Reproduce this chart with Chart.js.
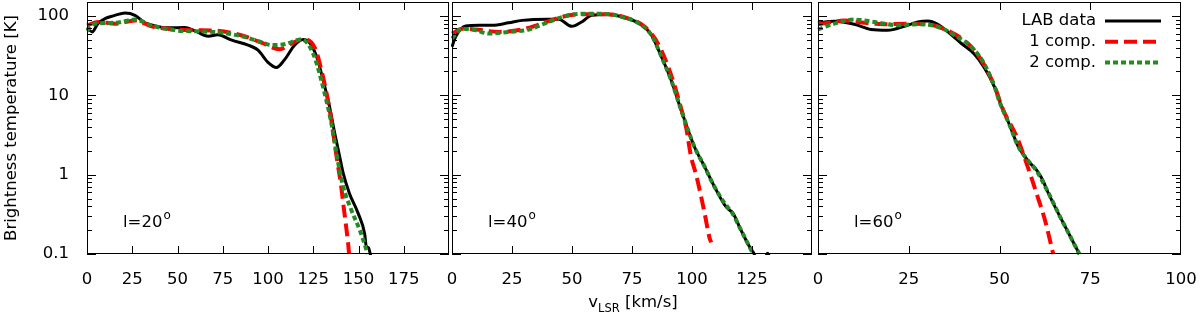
<!DOCTYPE html>
<html>
<head>
<meta charset="utf-8">
<script src="https://cdn.jsdelivr.net/npm/chart.js@4.4.1/dist/chart.umd.min.js"></script>
<style>
html, body { margin: 0; padding: 0; background: #fff; }
body { width: 1200px; height: 319px; position: relative; overflow: hidden; }
canvas { position: absolute; top: 0; }
</style>
</head>
<body>
<canvas id="p20" width="452" height="319" style="left:0px"></canvas>
<canvas id="p40" width="372" height="319" style="left:445px"></canvas>
<canvas id="p60" width="388" height="319" style="left:812px"></canvas>
<script>
// dados: [v_LSR (km/s), T_B (K)]
const seriesNames = ['LAB data', '1 comp.', '2 comp.'];
const longitudes = [20, 40, 60];
const xMaxima = [200, 150, 100];
const yTicks = [0.1, 1, 10, 100];

const lab20 = [[0,72],[2.8,63],[6,80],[10.5,94],[15,101],[21,109],[26.5,102],[32,82],[37.5,75],[44.7,71],[54,71.5],[59.6,65],[67,55.5],[72.3,58],[80,49.5],[89,43],[94.5,37],[100,26],[104.7,22.4],[109,27.8],[114.8,43],[119.5,50.5],[123,46],[126.8,31],[130.4,15.6],[134,7.2],[136.9,3.3],[139.6,1.69],[141.5,1.05],[145,0.58],[149.7,0.33],[153.4,0.18],[154.3,0.125],[155.5,0.12],[156.5,0.1],[157,0.09]];
const one20 = [[0,76],[6.2,84],[15.5,80],[26.5,88],[35.7,74],[48.6,67.5],[60,66],[72,65],[87,55.5],[96.4,46],[106.5,38],[113,45],[119.4,51],[125.8,40],[129.5,20.8],[134.1,6.5],[138.3,1.46],[140.2,0.78],[142,0.36],[144.2,0.14],[144.8,0.1]];
const two20 = [[0,65],[4.4,80],[15.5,82],[26.5,90],[35.7,76],[48.6,66],[60,64],[72,62.4],[87,54.5],[96,47],[102,43],[109,44],[118.5,50.5],[124.9,33.7],[131.3,10.6],[135,4.45],[137.8,1.87],[141.5,0.71],[146,0.36],[150.7,0.2],[154.3,0.114],[155,0.1]];

const lab40 = [[0,40.8],[1.5,54.5],[5.7,75],[11.2,76.5],[16.7,76.5],[23.6,82],[29.2,88],[40.2,91],[44.4,91],[49.9,74],[54,84],[58.2,102],[65,104],[72,95],[77.5,82],[83,58],[87.2,31],[91.3,15.6],[95.5,6.5],[101,2.25],[105.2,1.27],[109.3,0.71],[113.5,0.42],[115.5,0.36],[117,0.33],[120.4,0.2],[123.8,0.126],[125.9,0.1],[127,0.08],[130.5,0.09],[131.5,0.102],[132.5,0.09]];
const one40 = [[0,60],[4.3,69],[9.9,67.5],[19.5,63],[29.2,67.5],[37.4,80],[45.7,97],[54,105],[65,105],[73.4,93],[80.3,73],[85.8,45],[91.3,18],[95.5,6.8],[97.6,3.85],[99.6,1.69],[101.7,1.0],[103.8,0.53],[105.4,0.31],[107.3,0.16],[108,0.14]];
const two40 = [[0,52],[4.3,69],[9.9,66],[15.3,60],[23.6,63],[32,67.5],[40.2,84],[48.5,102],[56.7,107],[66.3,105],[72,95],[77.5,82],[83,58],[87.2,31],[91.3,15.6],[95.5,6.5],[101,2.25],[105.2,1.27],[109.3,0.71],[113.5,0.44],[117,0.32],[120.4,0.2],[123.8,0.126],[125.5,0.1]];

const lab60 = [[0,82],[4.5,86],[10,78.7],[14.6,67.5],[19.2,66],[23.8,74],[27.5,84],[30.2,86.5],[33,78.7],[35.8,63],[39.5,45],[43.1,33],[45.9,22],[48.7,12.5],[50,8.5],[52.8,4.2],[55.1,2.3],[58.4,1.4],[60.2,1.15],[62.1,0.82],[63,0.65],[66.6,0.30],[69.4,0.17],[72,0.1]];
const one60 = [[0,78.7],[3.5,83],[7.2,88],[12.8,82],[18.3,78.7],[24.7,80],[30.2,78.7],[35.8,65],[41.3,45],[45,27.8],[48.7,12.8],[51,6.55],[54.7,3.04],[57.4,1.41],[60.2,0.58],[62.5,0.27],[64.8,0.1]];
const two60 = [[0,67.5],[4.5,80],[10,90],[15.5,84],[22,76.5],[27.5,78.7],[33,73],[37.6,57.2],[42.2,40.8],[45.5,26.3],[48.7,12.6],[50,8.3],[52.8,4.2],[55.1,2.3],[57.9,1.5],[60.2,1.12],[63,0.65],[66.6,0.30],[69.4,0.17],[72,0.1]];

const FONT = "'DejaVu Sans', sans-serif";
const FS = 16.5;
const colors = ['#000000', '#ff0000', '#228b22'];
const widths = [3, 4, 4];
const dashes = [[], [13, 6], [5, 3]];

// moldura, marcas internas, rótulo do painel, legenda e título do eixo x
const framePlugin = {
    id: 'frame',
    afterDatasetsDraw(chart, args, opts) {
        const { ctx, chartArea: a, scales: { x, y } } = chart;
        ctx.save();
        ctx.strokeStyle = '#000';
        ctx.lineWidth = 1;
        ctx.setLineDash([]);
        ctx.strokeRect(a.left + 0.5, a.top + 0.5, a.right - a.left - 1, a.bottom - a.top - 1);

        ctx.beginPath();
        x.ticks.forEach(t => {
            if (t.value <= x.min || t.value >= x.max) return;
            const px = Math.round(x.getPixelForValue(t.value)) + 0.5;
            ctx.moveTo(px, a.bottom); ctx.lineTo(px, a.bottom - 8);
            ctx.moveTo(px, a.top); ctx.lineTo(px, a.top + 8);
        });
        yTicks.forEach(d => {
            for (let m = 1; m <= 9; m++) {
                const v = d * m;
                if (v > y.max) continue;
                const py = Math.round(y.getPixelForValue(v)) + 0.5;
                const len = m === 1 ? 9 : 5;
                ctx.moveTo(a.left, py); ctx.lineTo(a.left + len, py);
                ctx.moveTo(a.right, py); ctx.lineTo(a.right - len, py);
            }
        });
        ctx.stroke();

        // l=20°, l=40°, l=60°
        ctx.fillStyle = '#000';
        ctx.textAlign = 'left';
        ctx.textBaseline = 'alphabetic';
        ctx.font = FS + 'px ' + FONT;
        const lx = a.left + 36;
        const main = 'l=' + opts.lon;
        ctx.fillText(main, lx, 227);
        const w = ctx.measureText(main).width;
        ctx.font = '12px ' + FONT;
        ctx.fillText('o', lx + w + 1, 219);

        if (opts.legend) {
            chart.data.datasets.forEach((ds, i) => {
                const ly = 21 + i * 20.7;
                ctx.font = FS + 'px ' + FONT;
                ctx.textAlign = 'right';
                ctx.textBaseline = 'middle';
                ctx.fillStyle = '#000';
                ctx.fillText(ds.label, a.right - 85, ly);
                ctx.beginPath();
                ctx.strokeStyle = ds.borderColor;
                ctx.lineWidth = ds.borderWidth;
                ctx.setLineDash(ds.borderDash || []);
                ctx.moveTo(a.right - 76, ly);
                ctx.lineTo(a.right - 20, ly);
                ctx.stroke();
            });
        }

        if (opts.xTitle) {
            ctx.setLineDash([]);
            ctx.fillStyle = '#000';
            ctx.textAlign = 'left';
            ctx.textBaseline = 'alphabetic';
            ctx.font = FS + 'px ' + FONT;
            const w1 = ctx.measureText('v').width;
            const w3 = ctx.measureText(' [km/s]').width;
            ctx.font = '11.5px ' + FONT;
            const w2 = ctx.measureText('LSR').width;
            let sx = opts.xTitle - (w1 + w2 + w3) / 2;
            ctx.font = FS + 'px ' + FONT;
            ctx.fillText('v', sx, 307);
            ctx.font = '11.5px ' + FONT;
            ctx.fillText('LSR', sx + w1, 312);
            ctx.font = FS + 'px ' + FONT;
            ctx.fillText(' [km/s]', sx + w1 + w2, 307);
        }
        ctx.restore();
    }
};

function makePanel(id, series, idx, areaLeft, padRight, extra) {
    const xMax = xMaxima[idx];
    const showY = idx === 0;
    const lastLabel = idx === 2;
    const datasets = series.map((d, i) => ({
        label: seriesNames[i],
        data: d,
        borderColor: colors[i],
        borderWidth: widths[i],
        borderDash: dashes[i],
        borderCapStyle: 'butt',
        borderJoinStyle: 'round',
        order: 3 - i,
        clip: 1
    }));
    return new Chart(document.getElementById(id).getContext('2d'), {
        type: 'line',
        data: { datasets: datasets },
        options: {
            responsive: false,
            animation: false,
            devicePixelRatio: 1,
            layout: { padding: { top: 2, right: padRight, bottom: 0, left: 0 } },
            elements: {
                point: { radius: 0 },
                line: { cubicInterpolationMode: 'monotone' }
            },
            plugins: {
                legend: { display: false },
                tooltip: { enabled: false },
                frame: Object.assign({ lon: longitudes[idx] }, extra)
            },
            scales: {
                x: {
                    type: 'linear',
                    min: 0,
                    max: xMax,
                    grid: { display: false },
                    border: { display: false },
                    ticks: {
                        stepSize: 25,
                        autoSkip: false,
                        maxRotation: 0,
                        padding: 8,
                        color: '#000',
                        font: { family: FONT, size: FS },
                        callback: v => (v === xMax && !lastLabel) ? '' : String(v)
                    },
                    afterFit: s => { s.height = 65; s.paddingLeft = 0; s.paddingRight = 0; }
                },
                y: {
                    type: 'logarithmic',
                    min: 0.1,
                    max: 150,
                    grid: { display: false },
                    border: { display: false },
                    ticks: {
                        display: showY,
                        padding: 10,
                        color: '#000',
                        font: { family: FONT, size: FS },
                        callback: v => v === 0.1 ? '0.1' : String(v)
                    },
                    title: {
                        display: showY,
                        text: 'Brightness temperature [K]',
                        color: '#000',
                        font: { family: FONT, size: FS },
                        padding: { top: 2, bottom: 0 }
                    },
                    afterBuildTicks: s => { s.ticks = yTicks.map(v => ({ value: v })); },
                    afterFit: s => { s.width = areaLeft; s.paddingTop = 0; s.paddingBottom = 0; }
                }
            }
        },
        plugins: [framePlugin]
    });
}

makePanel('p20', [lab20, one20, two20], 0, 87, 3, {});
makePanel('p40', [lab40, one40, two40], 1, 7, 5, { xTitle: 633 - 445 });
makePanel('p60', [lab60, one60, two60], 2, 6, 19, { legend: true });
</script>
</body>
</html>
